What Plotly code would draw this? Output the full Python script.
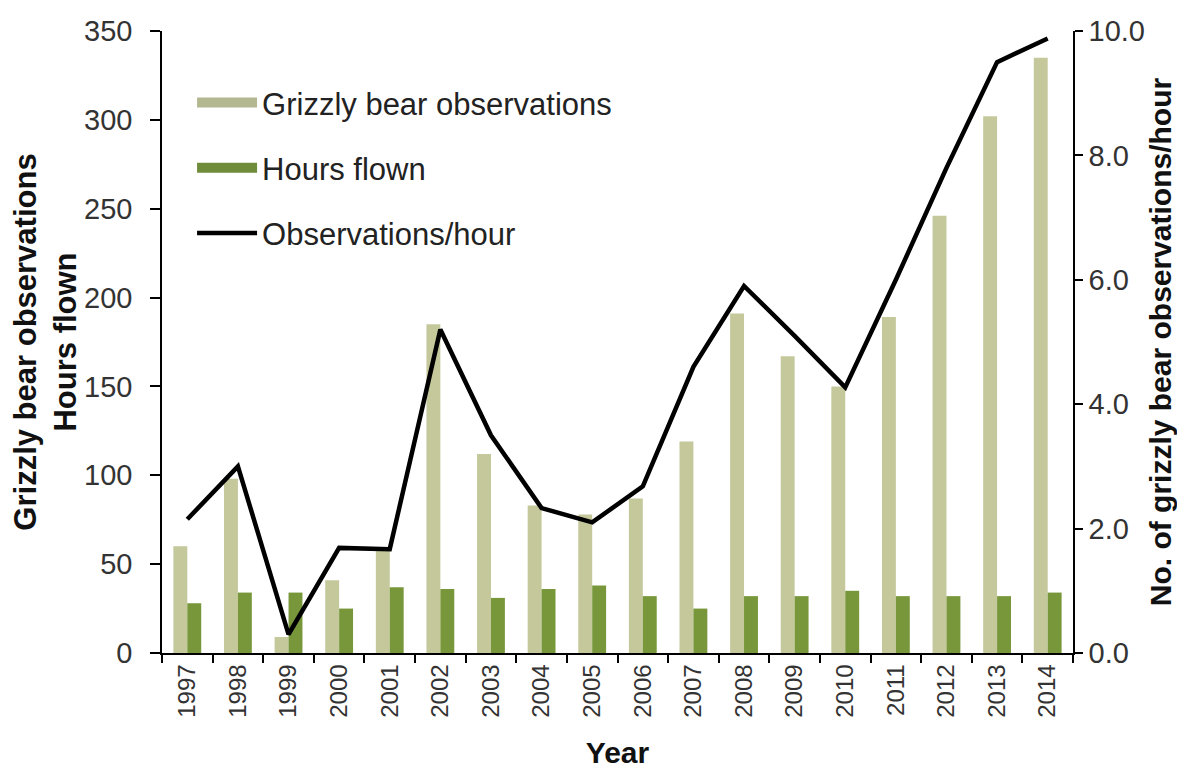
import plotly.graph_objects as go
from plotly.subplots import make_subplots

years = [str(y) for y in range(1997, 2015)]
grizzly_obs = [60, 98, 9, 41, 58, 185, 112, 83, 78, 87, 119, 191, 167, 150, 189, 246, 302, 335]
hours_flown = [28, 34, 34, 25, 37, 36, 31, 36, 38, 32, 25, 32, 32, 35, 32, 32, 32, 34]
obs_per_hour = [2.15, 3.0, 0.3, 1.69, 1.67, 5.2, 3.5, 2.33, 2.1, 2.68, 4.6, 5.9, 5.1, 4.27, 6.0, 7.8, 9.5, 9.88]

left_ticks = [0, 50, 100, 150, 200, 250, 300, 350]
right_ticks = [0, 2, 4, 6, 8, 10]

FONT = "Liberation Sans, Arial, sans-serif"
C_OBS = "#c5c89b"
C_HRS = "#77973a"

fig = make_subplots(specs=[[{"secondary_y": True}]])

fig.add_trace(go.Bar(x=years, y=grizzly_obs, name="Grizzly bear observations",
                     marker=dict(color=C_OBS, line=dict(width=0)),
                     showlegend=False), secondary_y=False)
fig.add_trace(go.Bar(x=years, y=hours_flown, name="Hours flown",
                     marker=dict(color=C_HRS, line=dict(width=0)),
                     showlegend=False), secondary_y=False)
fig.add_trace(go.Scatter(x=years, y=obs_per_hour, name="Observations/hour", mode="lines",
                         line=dict(color="black", width=4.5),
                         showlegend=False), secondary_y=True)

# legend entries (wide swatches like the original)
fig.add_trace(go.Scatter(x=[None], y=[None], mode="lines", name="Grizzly bear observations",
                         line=dict(color="#b4b890", width=14), legendgroup="a"))
fig.add_trace(go.Scatter(x=[None], y=[None], mode="lines", name="Hours flown",
                         line=dict(color="#6f8c3a", width=11), legendgroup="b"))
fig.add_trace(go.Scatter(x=[None], y=[None], mode="lines", name="Observations/hour",
                         line=dict(color="black", width=4.5), legendgroup="c"))

fig.update_layout(
    width=1169, height=761, autosize=False,
    margin=dict(l=154, r=104, t=23, b=116, autoexpand=False),
    paper_bgcolor="white", plot_bgcolor="white",
    font=dict(family=FONT, color="#222222"),
    barmode="group", bargap=0.45, bargroupgap=0,
    showlegend=True,
    legend=dict(x=0.033, y=0.928, xanchor="left", yanchor="top",
                font=dict(size=31, color="#222222"),
                bgcolor="rgba(0,0,0,0)", tracegroupgap=22,
                traceorder="grouped", itemwidth=60),
)

fig.update_xaxes(
    domain=[0, 1],
    type="category", tickangle=-90, tickson="boundaries", automargin=False,
    ticks="outside", ticklen=8, tickwidth=1.5, tickcolor="black",
    showline=True, linecolor="black", linewidth=1.5,
    tickfont=dict(size=24, color="#333333"),
    title=dict(text="<b>Year</b>", font=dict(size=30, color="#111111"), standoff=29),
    showgrid=False,
)
fig.update_yaxes(
    range=[0, 350], tickvals=left_ticks, ticks="outside", ticklen=10, automargin=False,
    ticklabelstandoff=12,
    tickwidth=1.5, tickcolor="black", showline=True, linecolor="black", linewidth=1.5,
    tickfont=dict(size=29, color="#333333"), showgrid=False, zeroline=False,
    title=dict(text="<b>Grizzly bear observations<br>Hours flown</b>",
               font=dict(size=31, color="#111111"), standoff=22),
    secondary_y=False,
)
fig.update_yaxes(
    range=[0, 10], tickvals=right_ticks, tickformat=".1f", ticks="outside", ticklen=8,
    automargin=False,
    tickwidth=1.5, tickcolor="black", showline=True, linecolor="black", linewidth=1.5,
    tickfont=dict(size=29, color="#333333"), showgrid=False, zeroline=False,
    title=dict(text="<b>No. of grizzly bear observations/hour</b>",
               font=dict(size=30, color="#111111"), standoff=6),
    secondary_y=True,
)

fig.write_html("out.html")
